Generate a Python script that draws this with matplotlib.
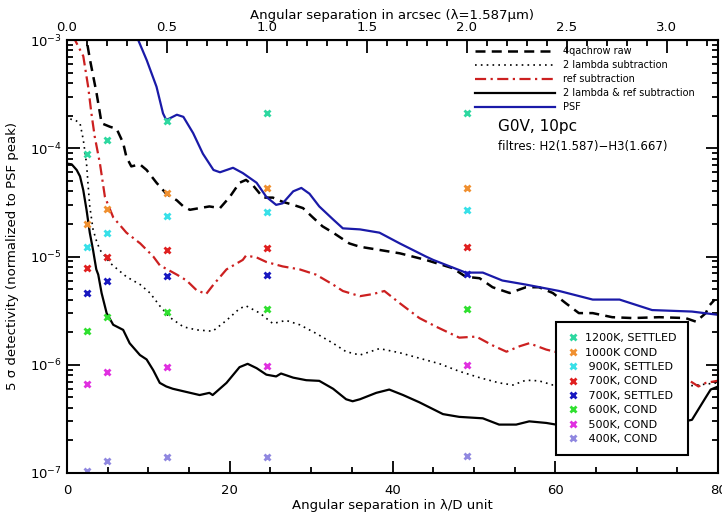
import numpy as np
import matplotlib
matplotlib.use("Agg")
import matplotlib.pyplot as plt

# courbes (x en lambda/D, y = detectivite 5 sigma)
psf_x = [8.4, 8.75, 9.8, 11.0, 11.8, 12.2, 13.5, 14.3, 15.5, 16.7, 18.0, 18.8, 20.4, 21.6, 23.3,
         24.5, 25.7, 26.5, 27.8, 28.8, 29.8, 31.0, 32.7, 33.9, 36.0, 38.4, 40.9, 44.1, 45.0, 49.0,
         51.1, 53.5, 56.4, 60.5, 64.6, 67.9, 71.9, 76.8, 79.9]
psf_y = [1.12e-3, 1.0e-3, 6.5e-4, 3.7e-4, 2.1e-4, 1.82e-4, 2.04e-4, 1.95e-4, 1.38e-4, 8.9e-5,
         6.3e-5, 6.0e-5, 6.6e-5, 5.9e-5, 4.8e-5, 3.55e-5, 3.0e-5, 3.1e-5, 4.0e-5, 4.3e-5, 3.8e-5,
         2.9e-5, 2.2e-5, 1.82e-5, 1.78e-5, 1.66e-5, 1.32e-5, 1.0e-5, 9.3e-6, 7.1e-6, 7.1e-6,
         6.0e-6, 5.5e-6, 4.8e-6, 4.0e-6, 4.0e-6, 3.2e-6, 3.1e-6, 2.9e-6]

raw_x = [2.2, 2.41, 2.82, 3.64, 4.05, 4.25, 5.28, 6.1, 6.9, 7.3, 7.9, 8.96, 9.78, 11.0, 12.2,
         13.5, 14.3, 15.1, 16.3, 17.5, 18.8, 20.0, 21.2, 22.0, 22.9, 24.1, 25.3, 26.5, 27.8, 29.0,
         30.2, 31.4, 32.7, 34.7, 36.0, 38.4, 40.9, 44.1, 47.4, 49.0, 50.7, 52.3, 54.4, 56.4, 58.0,
         59.7, 61.3, 62.9, 64.6, 67.0, 69.5, 72.8, 76.0, 77.3, 78.5, 78.9, 79.6]
raw_y = [1.26e-3, 1.0e-3, 6.6e-4, 3.2e-4, 2.1e-4, 1.7e-4, 1.58e-4, 1.51e-4, 1.12e-4, 8.3e-5,
         6.8e-5, 7.1e-5, 6.3e-5, 4.8e-5, 3.8e-5, 3.3e-5, 2.9e-5, 2.7e-5, 2.8e-5, 2.9e-5, 2.8e-5,
         3.55e-5, 4.8e-5, 5.1e-5, 4.5e-5, 3.5e-5, 3.5e-5, 3.2e-5, 3.0e-5, 2.8e-5, 2.3e-5, 1.9e-5,
         1.66e-5, 1.32e-5, 1.23e-5, 1.15e-5, 1.07e-5, 9.3e-6, 7.8e-6, 6.5e-6, 6.3e-6, 5.2e-6,
         4.6e-6, 5.2e-6, 5.2e-6, 4.6e-6, 3.7e-6, 3.0e-6, 3.0e-6, 2.75e-6, 2.7e-6, 2.75e-6, 2.7e-6,
         2.5e-6, 3.0e-6, 3.5e-6, 4.0e-6]

ref_x = [0.7, 0.98, 2.0, 2.6, 3.0, 3.4, 4.05, 4.66, 5.68, 7.3, 9.0, 10.6, 11.4, 13.5, 14.7, 15.9,
         17.1, 18.0, 19.6, 21.6, 22.0, 23.3, 24.5, 26.5, 28.6, 30.6, 32.7, 33.9, 36.0, 37.6, 39.0,
         40.9, 43.3, 45.4, 48.2, 50.3, 52.3, 54.0, 55.6, 56.8, 58.9, 60.5, 65.0, 70.0, 74.0, 76.4,
         77.6, 78.5, 79.9]
ref_y = [1.12e-3, 1.0e-3, 7.1e-4, 3.7e-4, 2.1e-4, 1.29e-4, 7.2e-5, 3.55e-5, 2.3e-5, 1.66e-5,
         1.32e-5, 1.0e-5, 8.3e-6, 6.8e-6, 6.0e-6, 4.9e-6, 4.5e-6, 5.5e-6, 7.6e-6, 9.3e-6, 1.02e-5,
         9.8e-6, 8.9e-6, 8.1e-6, 7.6e-6, 6.8e-6, 5.5e-6, 4.8e-6, 4.3e-6, 4.5e-6, 4.8e-6, 3.7e-6,
         2.7e-6, 2.24e-6, 1.78e-6, 1.82e-6, 1.51e-6, 1.32e-6, 1.48e-6, 1.58e-6, 1.38e-6, 1.29e-6,
         1.12e-6, 9.5e-7, 8.3e-7, 7.2e-7, 6.3e-7, 6.8e-7, 7.1e-7]

lam2_x = [0.4, 1.0, 1.6, 2.0, 2.4, 2.6, 2.8, 3.2, 3.6, 4.05, 4.7, 5.3, 7.3, 9.0, 10.2, 11.4, 12.6,
          14.3, 15.9, 17.9, 19.6, 21.2, 22.0, 23.7, 25.3, 26.9, 28.6, 30.6, 32.7, 34.3, 36.0, 38.4,
          40.9, 43.3, 45.8, 48.2, 50.7, 53.1, 54.8, 56.4, 58.0, 59.7, 65.0, 70.0, 75.0, 79.9]
lam2_y = [1.86e-4, 1.82e-4, 1.7e-4, 1.2e-4, 7.2e-5, 4.5e-5, 2.9e-5, 1.78e-5, 1.41e-5, 1.15e-5,
          1.0e-5, 8.7e-6, 6.5e-6, 5.5e-6, 4.6e-6, 3.5e-6, 2.75e-6, 2.24e-6, 2.1e-6, 2.04e-6,
          2.57e-6, 3.3e-6, 3.5e-6, 3.0e-6, 2.4e-6, 2.57e-6, 2.34e-6, 1.95e-6, 1.58e-6, 1.32e-6,
          1.23e-6, 1.41e-6, 1.29e-6, 1.15e-6, 1.02e-6, 8.7e-7, 7.6e-7, 6.8e-7, 6.5e-7, 7.2e-7,
          7.1e-7, 6.5e-7, 6.2e-7, 6.0e-7, 6.2e-7, 6.8e-7]

both_x = [0.1, 0.58, 1.19, 1.6, 2.0, 2.4, 2.8, 3.2, 3.6, 3.84, 4.25, 4.87, 5.68, 6.9, 7.7, 8.96,
          9.78, 10.6, 11.4, 12.2, 13.0, 14.7, 16.3, 17.5, 17.9, 19.6, 21.2, 22.2, 23.3, 24.5, 25.7,
          26.3, 27.8, 29.4, 31.0, 32.7, 34.3, 35.1, 36.0, 38.0, 39.6, 41.3, 43.3, 46.2, 48.2, 51.1,
          53.1, 55.2, 56.8, 58.9, 60.1, 65.0, 70.0, 74.0, 76.8, 78.5, 79.1, 79.8]
both_y = [7.2e-5, 7.1e-5, 6.3e-5, 5.5e-5, 4.1e-5, 2.7e-5, 1.66e-5, 1.15e-5, 7.6e-6, 6.8e-6,
          4.6e-6, 3.0e-6, 2.34e-6, 2.1e-6, 1.58e-6, 1.23e-6, 1.12e-6, 8.9e-7, 6.8e-7, 6.3e-7,
          6.0e-7, 5.6e-7, 5.25e-7, 5.5e-7, 5.25e-7, 6.8e-7, 9.5e-7, 1.02e-6, 9.3e-7, 8.1e-7,
          7.8e-7, 8.3e-7, 7.6e-7, 7.2e-7, 7.1e-7, 6.0e-7, 4.8e-7, 4.6e-7, 4.8e-7, 5.5e-7, 5.9e-7,
          5.25e-7, 4.5e-7, 3.5e-7, 3.3e-7, 3.2e-7, 2.8e-7, 2.8e-7, 3.0e-7, 2.9e-7, 2.8e-7,
          2.7e-7, 2.7e-7, 2.8e-7, 3.1e-7, 5.0e-7, 5.9e-7, 6.2e-7]

# companions (0.1, 0.2, 0.5, 1.0, 2.0 arcsec)
comp_x = [2.46, 4.91, 12.3, 24.6, 49.1]
comp_labels = ["1200K, SETTLED", "1000K COND", " 900K, SETTLED", " 700K, COND",
               " 700K, SETTLED", " 600K, COND", " 500K, COND", " 400K, COND"]
comp_colors = ["#2ed8a0", "#f09030", "#38e0e8", "#e02020", "#1818c0", "#30e030", "#e030e0", "#9088e0"]
c1200 = [8.9e-5, 1.2e-4, 1.8e-4, 2.1e-4, 2.1e-4]
c1000 = [2.0e-5, 2.75e-5, 3.9e-5, 4.3e-5, 4.3e-5]
c900s = [1.23e-5, 1.66e-5, 2.35e-5, 2.6e-5, 2.7e-5]
c700c = [7.8e-6, 1.0e-5, 1.15e-5, 1.2e-5, 1.23e-5]
c700s = [4.6e-6, 5.9e-6, 6.6e-6, 6.8e-6, 6.9e-6]
c600 = [2.05e-6, 2.75e-6, 3.1e-6, 3.3e-6, 3.3e-6]
c500 = [6.6e-7, 8.5e-7, 9.6e-7, 9.7e-7, 1.0e-6]
c400 = [1.05e-7, 1.3e-7, 1.42e-7, 1.42e-7, 1.43e-7]
comp_vals = [c1200, c1000, c900s, c700c, c700s, c600, c500, c400]

arcsec_per_lod = 0.0407

fig = plt.figure(figsize=(7.22, 5.18), dpi=100)
ax = fig.add_axes([67/722, 1-473/518, 651/722, 433/518])

l1, = ax.plot(raw_x, raw_y, color="black", lw=1.8, ls=(0, (4, 2.5)), label="4qachrow raw")
l2, = ax.plot(lam2_x, lam2_y, color="black", lw=1.2, ls=(0, (1, 2.5)), label="2 lambda subtraction")
l3, = ax.plot(ref_x, ref_y, color="#cc2020", lw=1.6, ls=(0, (5, 2, 1, 2)), label="ref subtraction")
l4, = ax.plot(both_x, both_y, color="black", lw=1.6, label="2 lambda & ref subtraction")
l5, = ax.plot(psf_x, psf_y, color="#1a1aa8", lw=1.6, label="PSF")

pts = []
for lab, col, vals in zip(comp_labels, comp_colors, comp_vals):
    p, = ax.plot(comp_x, vals, ls="none", marker="x", ms=5, mew=2, color=col, label=lab)
    pts.append(p)

ax.set_yscale("log")
ax.set_xlim(0, 80)
ax.set_ylim(1e-7, 1e-3)
ax.set_xticks([0, 20, 40, 60, 80])
ax.set_xticks(np.arange(0, 81, 5), minor=True)
ax.tick_params(which="both", direction="in", top=False, right=True, width=1.3, labelsize=9.5)
ax.tick_params(which="major", length=9)
ax.tick_params(which="minor", length=4.5)
ax.tick_params(axis="x", pad=8)
for s in ax.spines.values():
    s.set_linewidth(1.5)

ax.set_xlabel("Angular separation in λ/D unit", fontsize=9.5, labelpad=1)
ax.set_ylabel("5 σ detectivity (normalized to PSF peak)", fontsize=9.5, labelpad=8)

top = ax.secondary_xaxis("top", functions=(lambda x: x*arcsec_per_lod, lambda a: a/arcsec_per_lod))
top.set_xticks(np.arange(0, 3.01, 0.5))
top.set_xticks(np.arange(0, 3.25, 0.1), minor=True)
top.xaxis.set_major_formatter(matplotlib.ticker.FormatStrFormatter("%.1f"))
top.tick_params(which="both", direction="in", width=1.3, labelsize=9.5, pad=4)
top.tick_params(which="major", length=9)
top.tick_params(which="minor", length=4.5)
top.set_xlabel("Angular separation in arcsec (λ=1.587μm)", fontsize=9.5, labelpad=2)

ax.text(0.662, 0.79, "G0V, 10pc", transform=ax.transAxes, fontsize=11)
ax.text(0.662, 0.745, "filtres: H2(1.587)−H3(1.667)", transform=ax.transAxes, fontsize=8.5)

leg1 = ax.legend(handles=[l1, l2, l3, l4, l5], loc="upper left",
                 bbox_to_anchor=(475/722, 1-46/518), bbox_transform=fig.transFigure,
                 frameon=False, fontsize=7, handlelength=8.2, handletextpad=0.9,
                 labelspacing=0.42, borderpad=0, borderaxespad=0)
ax.add_artist(leg1)

leg2 = ax.legend(handles=pts, loc="upper left",
                 bbox_to_anchor=(556/722, 1-322/518), bbox_transform=fig.transFigure,
                 fontsize=8, handlelength=1.0, handletextpad=0.6, labelspacing=0.4,
                 borderpad=1.0, borderaxespad=0, fancybox=False, framealpha=1,
                 edgecolor="black")
leg2.get_frame().set_linewidth(1.5)

fig.savefig("out.png", dpi=100)
